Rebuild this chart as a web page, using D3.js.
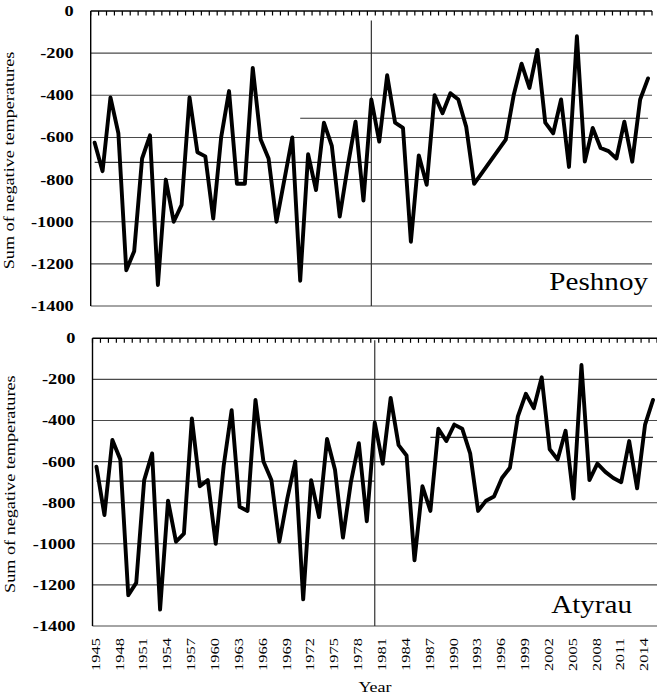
<!DOCTYPE html>
<html>
<head>
<meta charset="utf-8">
<script src="https://cdn.jsdelivr.net/npm/d3@7"></script>
<style>
  html, body { margin: 0; padding: 0; background: #fff; }
  svg { display: block; }
  text { font-family: "Liberation Serif", "Times New Roman", serif; fill: #000; }
</style>
</head>
<body>
<div id="chart"></div>
<script>
// Winter sums of negative air temperatures, 1945–2015
const years = [
  1945, 1946, 1947, 1948, 1949, 1950, 1951, 1952, 1953, 1954,
  1955, 1956, 1957, 1958, 1959, 1960, 1961, 1962, 1963, 1964,
  1965, 1966, 1967, 1968, 1969, 1970, 1971, 1972, 1973, 1974,
  1975, 1976, 1977, 1978, 1979, 1980, 1981, 1982, 1983, 1984,
  1985, 1986, 1987, 1988, 1989, 1990, 1991, 1992, 1993, 1994,
  1995, 1996, 1997, 1998, 1999, 2000, 2001, 2002, 2003, 2004,
  2005, 2006, 2007, 2008, 2009, 2010, 2011, 2012, 2013, 2014,
  2015
];

// Peshnoy station (no record for 1994–1996)
const peshnoy = [
  -625, -760, -410, -580, -1230, -1140, -700, -590, -1300, -800,
  -1000, -920, -410, -670, -690, -985, -600, -380, -820, -820,
  -270, -610, -700, -1000, -800, -600, -1280, -680, -850, -530,
  -640, -975, -740, -525, -900, -420, -620, -305, -530, -555,
  -1095, -685, -825, -400, -485, -390, -420, -550, -820, null,
  null, null, -610, -400, -250, -365, -185, -530, -580, -420,
  -740, -120, -715, -555, -650, -665, -700, -525, -715, -420,
  -320
];

// Atyrau station
const atyrau = [
  -625, -860, -495, -590, -1250, -1190, -690, -560, -1320, -790,
  -990, -950, -390, -720, -690, -1000, -620, -350, -820, -840,
  -300, -600, -690, -990, -780, -600, -1270, -690, -870, -490,
  -640, -970, -700, -510, -890, -410, -610, -290, -520, -570,
  -1080, -720, -840, -440, -500, -420, -440, -560, -840, -790,
  -770, -680, -630, -380, -270, -340, -190, -540, -590, -450,
  -780, -130, -690, -610, -650, -680, -700, -500, -730, -420,
  -300
];

// Period means: [from year, to year, value]
const peshnoyMeans = [[1945, 1980, -718], [1971, 2015, -509]];
const atyrauMeans  = [[1945, 1980, -695], [1987, 2015, -482]];

const yTicks = [0, -200, -400, -600, -800, -1000, -1200, -1400];
const xTickLabels = ["1945", "1948", "1951", "1954", "1957", "1960", "1963",
  "1966", "1969", "1972", "1975", "1978", "1981", "1984", "1987", "1990",
  "1993", "1996", "1999", "2002", "2005", "2008", "2011", "2014"];
const splitYear = 1980;

const W = 657, H = 699;
const svg = d3.select("#chart").append("svg")
  .attr("width", W).attr("height", H);

const panels = [
  { name: "Peshnoy", values: peshnoy, means: peshnoyMeans,
    left: 90.7, right: 652, top: 11, bottom: 306, splitFrom: -45,
    nameX: 648, nameY: 290, titleX: 10, xLabels: false },
  { name: "Atyrau", values: atyrau, means: atyrauMeans,
    left: 92.5, right: 657, top: 338.3, bottom: 626, splitFrom: -10,
    nameX: 632, nameY: 613, titleX: 11, xLabels: true }
];

panels.forEach(p => {
  const g = svg.append("g");
  const x = d3.scaleBand().domain(years).range([p.left, p.right]).padding(0);
  const cx = yr => x(yr) + x.bandwidth() / 2;
  const y = d3.scaleLinear().domain([0, -1400]).range([p.top, p.bottom]);

  // horizontal gridlines
  g.append("g").selectAll("line").data(yTicks.filter(v => v !== 0)).join("line")
    .attr("x1", p.left).attr("x2", p.right)
    .attr("y1", d => y(d)).attr("y2", d => y(d))
    .attr("stroke", "#4a4a4a").attr("stroke-width", 1.1);

  // y tick labels, slightly widened serif
  g.append("g").selectAll("text").data(yTicks).join("text")
    .attr("transform", d => `translate(${p.left - 17},${y(d)}) scale(1.22,1)`)
    .attr("text-anchor", "end").attr("dominant-baseline", "central")
    .attr("font-size", 15).attr("font-weight", "bold")
    .text(d => d);

  // period mean lines
  g.append("g").selectAll("line").data(p.means).join("line")
    .attr("x1", d => cx(d[0])).attr("x2", d => cx(d[1]))
    .attr("y1", d => y(d[2])).attr("y2", d => y(d[2]))
    .attr("stroke", "#333").attr("stroke-width", 1.2);

  // split between the two periods
  g.append("line")
    .attr("x1", cx(splitYear)).attr("x2", cx(splitYear))
    .attr("y1", y(p.splitFrom)).attr("y2", y(-1400))
    .attr("stroke", "#333").attr("stroke-width", 1.2);

  // series line (gaps are bridged between recorded years)
  const pts = years.map((yr, i) => [yr, p.values[i]]).filter(d => d[1] !== null);
  g.append("path").datum(pts)
    .attr("fill", "none").attr("stroke", "#000").attr("stroke-width", 3.9)
    .attr("stroke-linejoin", "round").attr("stroke-linecap", "round")
    .attr("d", d3.line().x(d => cx(d[0])).y(d => y(d[1])));

  // category axis along the zero line, ticks between years
  const bounds = years.map(yr => x(yr)).concat([p.right]);
  g.append("g").selectAll("line").data(bounds).join("line")
    .attr("x1", d => d).attr("x2", d => d)
    .attr("y1", y(0)).attr("y2", y(0) + 4.5)
    .attr("stroke", "#000").attr("stroke-width", 1.2);
  g.append("line")
    .attr("x1", p.left).attr("x2", p.right).attr("y1", y(0)).attr("y2", y(0))
    .attr("stroke", "#000").attr("stroke-width", 1.4);

  // value axis
  g.append("line")
    .attr("x1", p.left).attr("x2", p.left).attr("y1", y(0)).attr("y2", y(-1400))
    .attr("stroke", "#000").attr("stroke-width", 1.4);

  // axis title
  g.append("text")
    .attr("transform", `translate(${p.titleX},${(p.top + p.bottom) / 2 + 2}) rotate(-90) scale(1.3,1)`)
    .attr("text-anchor", "middle").attr("dominant-baseline", "central")
    .attr("font-size", 14)
    .text("Sum of negative temperatures");

  // station name
  g.append("text")
    .attr("transform", `translate(${p.nameX},${p.nameY}) scale(1.12,1)`)
    .attr("text-anchor", "end").attr("font-size", 26)
    .text(p.name);

  if (p.xLabels) {
    g.append("g").selectAll("text").data(xTickLabels).join("text")
      .attr("transform", d => `translate(${cx(+d) - 1},${p.bottom + 12}) rotate(-90) scale(1.32,1)`)
      .attr("text-anchor", "end").attr("dominant-baseline", "central")
      .attr("font-size", 12.5)
      .text(d => d);
    g.append("text")
      .attr("transform", `translate(375,${H - 7}) scale(1.2,1)`)
      .attr("text-anchor", "middle").attr("font-size", 15)
      .text("Year");
  }
});
</script>
</body>
</html>
